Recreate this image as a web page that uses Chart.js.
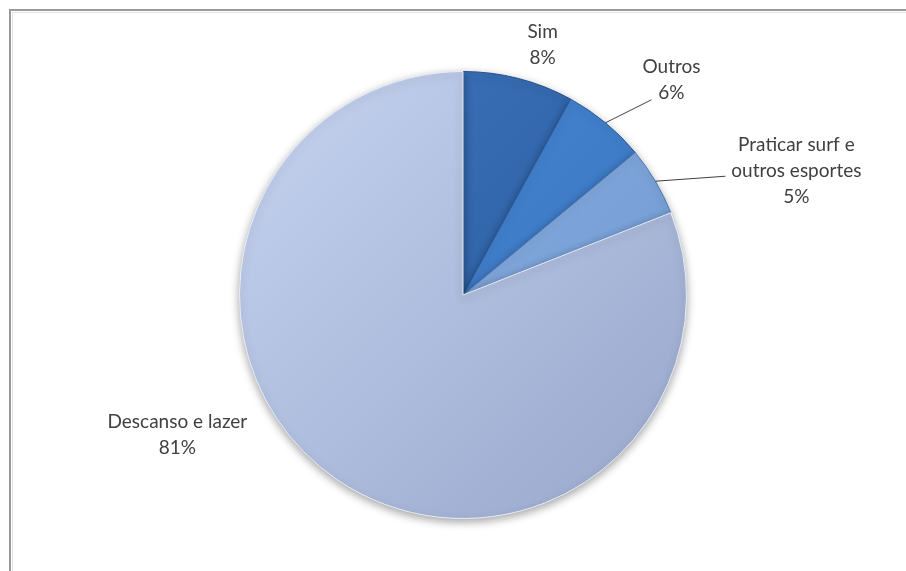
<!DOCTYPE html>
<html>
<head>
<meta charset="utf-8">
<script src="https://cdn.jsdelivr.net/npm/chart.js@4/dist/chart.umd.min.js"></script>
<style>
  html, body { margin: 0; padding: 0; background: #ffffff; overflow: hidden; }
  #wrap { width: 906px; height: 571px; position: relative; }
</style>
</head>
<body>
<div id="wrap"><canvas id="c" width="906" height="571"></canvas></div>
<script>
const categories = ["Sim", "Outros", "Praticar surf e outros esportes", "Descanso e lazer"];
const labelLines = [["Sim", "8%"], ["Outros", "6%"], ["Praticar surf e", "outros esportes", "5%"], ["Descanso e lazer", "81%"]];
const values = [8, 6, 5, 81];

const colorStops = [
  ["#3A70B8", "#2A5C9E"],
  ["#4A88D4", "#3572BE"],
  ["#8FB2E2", "#6E98D2"],
  ["#BFCDEB", "#9EADD0"]
];

// label placement relative to the slice's outer edge point (style only)
const labelCfg = [
  { dx: 24,  dy: -34, leader: false },
  { dx: 66,  dy: -43, leader: true, lx: 46, ly: -23 },
  { dx: 141, dy: -10, leader: true, lx: 70, ly: -5 },
  { dx: -160, dy: -45, leader: false }
];

const framePlugin = {
  id: 'frame',
  beforeDraw(chart) {
    const ctx = chart.ctx;
    ctx.save();
    ctx.fillStyle = '#ffffff';
    ctx.fillRect(0, 0, chart.width, chart.height);
    ctx.strokeStyle = '#9a9a9a';
    ctx.lineWidth = 2;
    ctx.strokeRect(10, 10, 930, 600);
    ctx.strokeStyle = '#e4e4e4';
    ctx.lineWidth = 1;
    ctx.strokeRect(12.5, 12.5, 930, 600);
    ctx.restore();
  }
};

const shadowPlugin = {
  id: 'shadow',
  beforeDatasetsDraw(chart) {
    const ctx = chart.ctx;
    ctx.save();
    ctx.shadowColor = 'rgba(0,0,0,0.35)';
    ctx.shadowBlur = 9;
    ctx.shadowOffsetY = 3;
  },
  afterDatasetsDraw(chart) {
    chart.ctx.restore();
  }
};

const labelPlugin = {
  id: 'pieLabels',
  afterDatasetsDraw(chart) {
    const ctx = chart.ctx;
    const meta = chart.getDatasetMeta(0);
    ctx.save();
    ctx.font = '19px Lato, "Liberation Sans", sans-serif';
    ctx.fillStyle = '#404040';
    ctx.textAlign = 'center';
    ctx.textBaseline = 'middle';
    meta.data.forEach((arc, i) => {
      const p = arc.getProps(['x', 'y', 'startAngle', 'endAngle', 'outerRadius'], true);
      const mid = (p.startAngle + p.endAngle) / 2;
      const ex = p.x + Math.cos(mid) * p.outerRadius;
      const ey = p.y + Math.sin(mid) * p.outerRadius;
      const cfg = labelCfg[i];
      if (cfg.leader) {
        ctx.strokeStyle = '#404040';
        ctx.lineWidth = 1;
        ctx.beginPath();
        ctx.moveTo(ex, ey);
        ctx.lineTo(ex + cfg.lx, ey + cfg.ly);
        ctx.stroke();
      }
      const lines = labelLines[i];
      const lh = 26;
      const cx = ex + cfg.dx, cy = ey + cfg.dy;
      const y0 = cy - (lines.length - 1) * lh / 2;
      lines.forEach((t, k) => ctx.fillText(t, cx, y0 + k * lh));
    });
    ctx.restore();
  }
};

function sliceFill(context) {
  const i = context.dataIndex;
  const chart = context.chart;
  const a = chart.chartArea;
  if (!a) return colorStops[i][0];
  const cx = (a.left + a.right) / 2, cy = (a.top + a.bottom) / 2;
  const r = Math.min(a.right - a.left, a.bottom - a.top) / 2;
  const g = chart.ctx.createLinearGradient(cx - r * 0.7, cy - r * 0.7, cx + r * 0.7, cy + r * 0.7);
  g.addColorStop(0, colorStops[i][0]);
  g.addColorStop(1, colorStops[i][1]);
  return g;
}

new Chart(document.getElementById('c'), {
  type: 'pie',
  data: {
    labels: categories,
    datasets: [{
      data: values,
      backgroundColor: sliceFill,
      borderColor: ['#24508c', '#2a5c9e', '#4d78b4', '#e8eef8'],
      borderWidth: 1
    }]
  },
  options: {
    responsive: false,
    animation: false,
    layout: { padding: { top: 71, bottom: 52, left: 120, right: 100 } },
    plugins: {
      legend: { display: false },
      tooltip: { enabled: false }
    }
  },
  plugins: [framePlugin, shadowPlugin, labelPlugin]
});
</script>
</body>
</html>
